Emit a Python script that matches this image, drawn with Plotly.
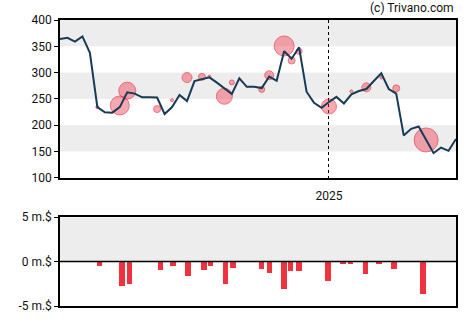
import plotly.graph_objects as go
import pandas as pd

# ---- data ----
price_dates = pd.date_range("2024-04-24", periods=54, freq="7D")
price = [363.8, 366, 359, 368.8, 337.5, 234.4, 224.4, 223.8, 234.4, 262.5,
         260, 253, 253, 252.5, 221.3, 234.4, 257.5, 246, 283.8, 287,
         291, 281, 270, 259.4, 289, 273, 273, 270.6, 292.5, 284.4,
         340.6, 326.3, 348.1, 263.7, 242.5, 233, 244, 253.8, 241.3, 258.8,
         265, 268.8, 284, 298.8, 268.8, 260, 180.6, 193.1, 197.5, 172,
         146.9, 157.5, 151.3, 173.8]

trade_dates = ["2024-05-29", "2024-06-19", "2024-06-26", "2024-07-24", "2024-08-07",
               "2024-08-21", "2024-09-04", "2024-09-11", "2024-09-25", "2024-10-02",
               "2024-10-30", "2024-11-06", "2024-11-20", "2024-11-27", "2024-12-04",
               "2025-01-01", "2025-01-22", "2025-02-05", "2025-02-19", "2025-03-05",
               "2025-04-02"]
trade_price = [234.4, 237.5, 265.6, 230.6, 247.5, 290.6, 291.9, 292.5, 255, 281.3,
               268, 295, 350.6, 323, 340.6, 235.6, 264.4, 271.9, 290.6, 270, 171.9]
trade_size = [3, 19, 17, 7, 3, 10, 7, 3, 16, 5,
              6, 9, 20, 7, 6, 15, 3, 9, 3, 7, 24]

flow_dates = ["2024-05-31", "2024-06-21", "2024-06-28", "2024-07-27", "2024-08-08",
              "2024-08-22", "2024-09-06", "2024-09-12", "2024-09-26", "2024-10-03",
              "2024-10-30", "2024-11-06", "2024-11-20", "2024-11-26", "2024-12-04",
              "2024-12-31", "2025-01-14", "2025-01-21", "2025-02-04", "2025-02-17",
              "2025-03-03", "2025-03-30"]
flow_value = [-0.49, -2.82, -2.52, -0.93, -0.52, -1.63, -0.93, -0.52, -2.6, -0.7,
              -0.82, -1.26, -3.15, -1.04, -1.04, -2.26, -0.26, -0.26, -1.38, -0.26,
              -0.82, -3.71]

y_ticks = [100, 150, 200, 250, 300, 350, 400]
bands = [(150, 200), (250, 300), (350, 400)]
flow_ticks = [-5, 0, 5]
flow_ticktext = ["-5 m.$", "0 m.$", "5 m.$"]
x_range = ["2024-04-24", "2025-04-30"]

FONT = "Roboto"
fig = go.Figure()

fig.add_trace(go.Scatter(
    x=trade_dates, y=trade_price, mode="markers",
    marker=dict(size=trade_size, sizemode="diameter",
                color="rgba(236,50,70,0.6)",
                line=dict(color="rgba(230,40,60,0.9)", width=1)),
    xaxis="x", yaxis="y", hoverinfo="skip", showlegend=False))

fig.add_trace(go.Scatter(
    x=price_dates, y=price, mode="lines",
    line=dict(color="#163a57", width=2),
    xaxis="x", yaxis="y", showlegend=False))

fig.add_trace(go.Bar(
    x=flow_dates, y=flow_value, marker=dict(color="#f0323f", line=dict(width=0)),
    width=4.3e8, xaxis="x2", yaxis="y2", showlegend=False))

shapes = []
for lo, hi in bands:
    shapes.append(dict(type="rect", xref="x domain", yref="y", x0=0, x1=1, y0=lo, y1=hi,
                       fillcolor="#ededed", line=dict(width=0), layer="below"))
shapes.append(dict(type="rect", xref="x2 domain", yref="y2", x0=0, x1=1, y0=0, y1=5,
                   fillcolor="#ededed", line=dict(width=0), layer="below"))
shapes.append(dict(type="line", xref="x2 domain", yref="y2", x0=0, x1=1, y0=0, y1=0,
                   line=dict(color="black", width=1.5), layer="above"))

fig.update_layout(
    width=470, height=325,
    margin=dict(l=60, r=14, t=20, b=15),
    paper_bgcolor="white", plot_bgcolor="white",
    font=dict(family=FONT, size=12, color="#111"),
    shapes=shapes,
    bargap=0,
    xaxis=dict(domain=[0, 1], range=x_range, type="date",
               tickvals=["2025-01-01"], ticktext=["2025"], ticks="",
               ticklabelstandoff=6,
               showgrid=True, gridcolor="black", griddash="dot", gridwidth=1,
               showline=True, linecolor="black", linewidth=1.5, mirror=True,
               zeroline=False, anchor="y",
               tickfont=dict(family=FONT, size=12, color="#111")),
    yaxis=dict(domain=[0.4483, 1], range=[100, 400], tickvals=y_ticks,
               ticks="outside", ticklen=4, tickcolor="black",
               showgrid=False, zeroline=False,
               showline=True, linecolor="black", linewidth=1.5, mirror=True,
               tickfont=dict(family=FONT, size=12, color="#111")),
    xaxis2=dict(domain=[0, 1], range=x_range, type="date", anchor="y2",
                showticklabels=False, ticks="", showgrid=False, zeroline=False,
                showline=True, linecolor="black", linewidth=1.5, mirror=True),
    yaxis2=dict(domain=[0, 0.3103], range=[-5, 5], tickvals=flow_ticks,
                ticktext=flow_ticktext, ticks="outside", ticklen=4, tickcolor="black",
                showgrid=False, zeroline=False,
                showline=True, linecolor="black", linewidth=1.5, mirror=True,
                tickfont=dict(family=FONT, size=12, color="#111")),
    annotations=[dict(text="(c) Trivano.com", xref="paper", yref="paper",
                      x=1, y=1, yshift=3, xanchor="right", yanchor="bottom",
                      showarrow=False, font=dict(family=FONT, size=12, color="#111"))],
)

fig.write_html("out.html")
